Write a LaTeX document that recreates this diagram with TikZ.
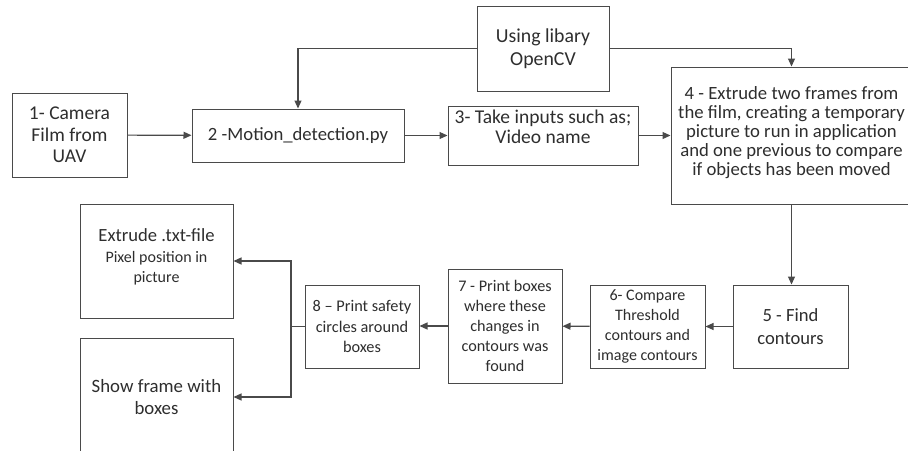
\documentclass[tikz,border=0pt]{standalone}
\usepackage{fontspec}
\setmainfont{Carlito}
\usetikzlibrary{arrows.meta}
\definecolor{ink}{HTML}{2E2E2E}
\definecolor{edge}{HTML}{4A4A4A}
\newcommand{\fsz}[2]{\fontsize{#1}{#2}\selectfont\lineskiplimit=-50pt\relax}
\begin{document}
\begin{tikzpicture}[x=1pt,y=-1pt,
  box/.style={draw=edge,line width=1pt,align=center,text=ink,inner sep=2pt},
  fsmall/.style={font=\fsz{16.2}{19.8}},
  flow/.style={draw=edge,line width=1.2pt,-{Triangle[length=8pt,width=7pt]}},
  plain/.style={draw=edge,line width=1.2pt}]
\clip (0,0) rectangle (908,450);
\useasboundingbox (0,0) rectangle (908,450);
\fill[white] (0,0) rectangle (908,450);

% top row
\node[box,font=\fsz{19.5}{21.7},minimum width=115pt,minimum height=84pt] (b1) at (69.5,135) {1- Camera\\Film from\\UAV};
\node[box,font=\fsz{18.7}{21},minimum width=212pt,minimum height=53pt] (b2) at (298,135.5) {2 -Motion\_detection.py};
\node[box,font=\fsz{19.5}{20},text depth=17pt,minimum width=190pt,minimum height=59pt] (b3) at (543,135.5) {3- Take inputs such as;\\Video name};
\node[box,font=\fsz{19.8}{23},minimum width=132pt,minimum height=85pt] (cv) at (543,48.5) {Using libary\\OpenCV};
\node[box,font=\fsz{18.7}{18.8},text depth=9pt,inner sep=1pt,minimum width=241pt,minimum height=137pt] (b4) at (791.5,135.5) {4 - Extrude two frames from\\the film, creating a temporary\\picture to run in application\\and one previous to compare\\if objects has been moved};

% bottom row
\node[box,font=\fsz{18.6}{22.7},minimum width=115pt,minimum height=83pt] (b5) at (790.5,326.5) {5 - Find\\contours};
\node[box,font=\fsz{16}{19.8},minimum width=115pt,minimum height=83pt] (b6) at (647.5,326.5) {6- Compare\\Threshold\\contours and\\image contours};
\node[box,fsmall,minimum width=114pt,minimum height=114pt] (b7) at (505,326) {7 - Print boxes\\where these\\changes in\\contours was\\found};
\node[box,font=\fsz{16.3}{20.2},minimum width=114pt,minimum height=83pt] (b8) at (362,326.5) {8 – Print safety\\circles around\\boxes};

% outputs
\node[box,minimum width=153pt,minimum height=114pt] (e1) at (156.5,261) {};
\node[align=center,text=ink,anchor=north,inner sep=0pt,font=\fsz{16}{19.5}] (e1t) at ([yshift=-25pt]e1.north)
  {{\fsz{18.6}{21}Extrude .txt-file}\\[1.5pt]Pixel position in\\picture};
\node[box,font=\fsz{18.8}{22.5},minimum width=153pt,minimum height=118pt] (s1) at (156.5,397) {Show frame with\\boxes};

% connectors
\draw[flow] (b1) -- (b2);
\draw[flow] (b2) -- (b3);
\draw[flow] (b3) -- (b4);
\draw[flow] (cv.west) -| (b2.north);
\draw[flow] (cv.east) -| (b4.north);
\draw[flow] (b4.south) -- (b4.south|-b5.north);
\draw[flow] (b5) -- (b6);
\draw[flow] (b6) -- (b7);
\draw[flow] (b7.west) -- (b7.west-|b8.east);
\coordinate (j) at (291,326.5);
\draw[plain] (b8.west) -- (j);
\draw[flow] (j) |- (e1.east);
\draw[flow] (j) |- (s1.east);
\end{tikzpicture}
\end{document}
